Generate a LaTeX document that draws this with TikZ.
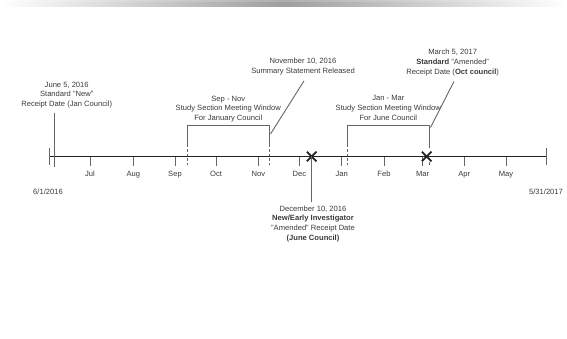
\documentclass[tikz,border=0pt]{standalone}
\usepackage{fontspec}
\setmainfont{Liberation Sans}
\usepackage{tikz}

\definecolor{inkdark}{HTML}{222222}
\definecolor{inkgray}{HTML}{666666}
\definecolor{txtgray}{HTML}{3A3A3A}

\tikzset{
	lbl/.style = {align = center, inner sep = 0pt, text = txtgray, font = \fontsize{7.6}{9.7}\selectfont},
	bar/.style = {draw = inkdark, line width = 1.8pt},
	tick/.style = {draw = inkgray, line width = 1pt},
	lead/.style = {draw = inkgray, line width = 0.9pt},
	window/.style = {draw = inkgray, line width = 1pt},
	winend/.style = {draw = inkgray, line width = 1pt, dash pattern = on 2.5pt off 2pt},
	xmark/.style = {draw = inkdark, line width = 1.8pt}
}

\begin{document}
\begin{tikzpicture}[x = 1pt, y = -1pt]
		\useasboundingbox (0, 0) rectangle (567, 339);
		\shade[left color = white, right color = white, middle color = black!32] (0, 0.5) rectangle (567, 1.6);
		\shade[left color = white, right color = white, middle color = black!38] (0, 3) rectangle (567, 7);
		\coordinate (start) at (50, 156.5);
		\coordinate (end) at (546.7, 156.5);
		\draw[bar] (start) -- (end);
		\draw[tick] (49.3, 148.3) -- (49.3, 165);
		\draw[tick] (546.7, 148.3) -- (546.7, 165);
		\node[lbl, anchor = base] (first) at (48, 194.5) {6/1/2016};
		\node[lbl, anchor = base] (last) at (546, 194.5) {5/31/2017};
		\foreach \m/\x in {Jul/90, Aug/133.3, Sep/175, Oct/216, Nov/258.3, Dec/299.3, Jan/341.7, Feb/384, Mar/422.7, Apr/464.3, May/506}
			\draw[tick] (\x, 157) -- (\x, 166.5) node[lbl, anchor = base, yshift = -10.5pt] (m\m) {\m};
		\node[lbl, anchor = north] (june) at (66.7, 81.5) {June 5, 2016\\Standard "New"\\Receipt Date (Jan Council)};
			\draw[lead] (54.5, 112.7) coordinate (june top) -- (54.5, 166.7) coordinate (june foot);
		\node[lbl, anchor = north] (sepnov) at (228.3, 95.5) {Sep - Nov\\Study Section Meeting Window\\For January Council};
			\draw[window] (187.3, 145) -- (187.3, 126) -- (269.5, 126) -- (269.5, 145) coordinate (sn right);
			\draw[winend] (187.3, 145) -- (187.3, 165);
			\draw[winend] (sn right) -- (269.5, 165);
		\node[lbl, anchor = north] (nov) at (303, 58.2) {November 10, 2016\\Summary Statement Released};
			\coordinate (nov hit) at (270.5, 134);
			\draw[lead] ([xshift = 1pt, yshift = -5.5pt]nov.south) -- (nov hit);
		\node[lbl, anchor = north] (janmar) at (388.3, 95.5) {Jan - Mar\\Study Section Meeting Window\\For June Council};
			\draw[window] (347.3, 145) -- (347.3, 126) -- (429, 126) -- (429, 148) coordinate (jm right);
			\draw[winend] (347.3, 145) -- (347.3, 165);
			\draw[winend] (429, 158) -- (429, 165);
		\node[lbl, anchor = north] (mar) at (452.7, 49) {March 5, 2017\\\textbf{Standard} "Amended"\\Receipt Date (\textbf{Oct council})};
			\coordinate (mar hit) at (430.5, 127.5);
			\draw[lead] ([xshift = 1.3pt, yshift = -5.5pt]mar.south) -- (mar hit);
		\coordinate (decx) at (311.7, 156.5);
		\draw[xmark] ([shift = {(-4.8, -4.8)}]decx) -- ([shift = {(4.8, 4.8)}]decx);
		\draw[xmark] ([shift = {(-4.8, 4.8)}]decx) -- ([shift = {(4.8, -4.8)}]decx);
		\coordinate (marx) at (426.7, 156.5);
		\draw[xmark] ([shift = {(-4.8, -4.8)}]marx) -- ([shift = {(4.8, 4.8)}]marx);
		\draw[xmark] ([shift = {(-4.8, 4.8)}]marx) -- ([shift = {(4.8, -4.8)}]marx);
		\node[lbl, anchor = north] (dec) at (313, 205.5) {December 10, 2016\\\textbf{New/Early Investigator}\\"Amended" Receipt Date\\\textbf{(June Council)}};
			\draw[lead] (decx) -- ([xshift = -1.3pt, yshift = 4pt]dec.north);
	\end{tikzpicture}
\end{document}
